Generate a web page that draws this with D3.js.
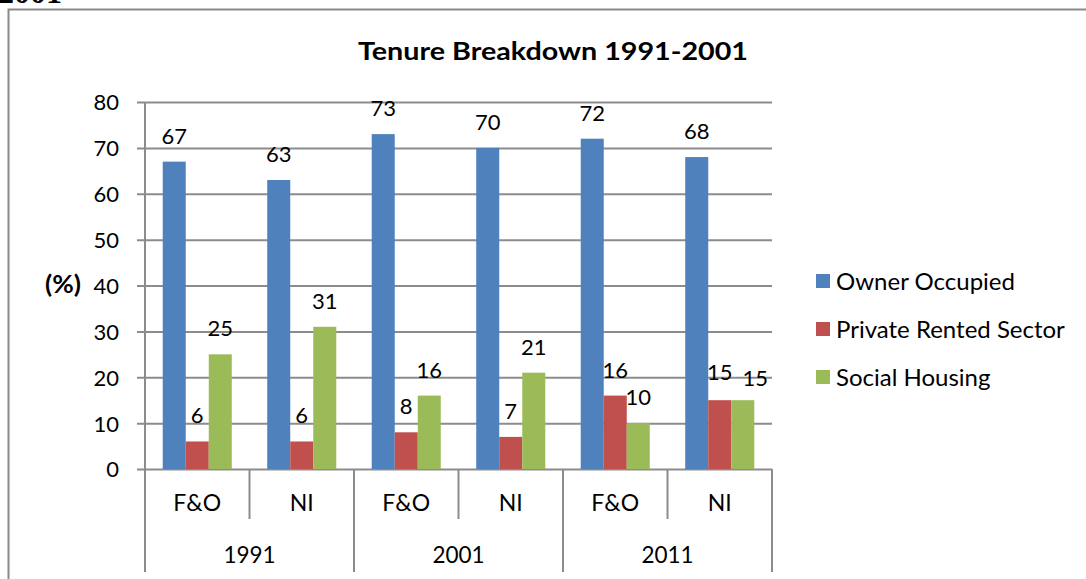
<!DOCTYPE html>
<html>
<head>
<meta charset="utf-8">
<script src="https://cdn.jsdelivr.net/npm/d3@7"></script>
<style>
  html, body { margin: 0; padding: 0; background: #fff; }
  svg { display: block; font-family: Lato, "Open Sans", sans-serif; }
</style>
</head>
<body>
<svg id="chart" width="1086" height="579"></svg>
<script>
const years = ["1991", "2001", "2011"];
const regions = ["F&O", "NI"];
const series = ["Owner Occupied", "Private Rented Sector", "Social Housing"];
const ownerOccupied = [67, 63, 73, 70, 72, 68];
const privateRented = [6, 6, 8, 7, 16, 15];
const socialHousing = [25, 31, 16, 21, 10, 15];
const yTicks = [0, 10, 20, 30, 40, 50, 60, 70, 80];
const colors = ["#4F81BD", "#C0504D", "#9BBB59"];
const title = "Tenure Breakdown 1991-2001";

const categories = [];
years.forEach(yy => regions.forEach(r => categories.push(yy + "|" + r)));
const values = [ownerOccupied, privateRented, socialHousing];

const svg = d3.select("#chart");
const gridColor = "#8c8c8c";
const numSize = 22;

// cut-off text fragment at very top and outer frame
svg.append("text").attr("x", -2).attr("y", 2.5)
  .attr("font-family", "'Liberation Serif', serif").attr("font-weight", "bold")
  .attr("font-size", 32).attr("fill", "#000").text("2001");
svg.append("path").attr("d", "M8.5,579 L8.5,9.5 L1090,9.5")
  .attr("fill", "none").attr("stroke", "#8a8a8a").attr("stroke-width", 2);

const pLeft = 145, pRight = 772, pTop = 102, pBottom = 469;
const x0 = d3.scaleBand().domain(categories).range([pLeft, pRight]).padding(0);
const x1 = d3.scaleBand().domain(series).range([0, x0.bandwidth()])
  .paddingInner(0).paddingOuter(0.77);
const y = d3.scaleLinear().domain([0, 80]).range([pBottom, pTop]);

// gridlines + ticks
const yAxis = d3.axisLeft(y).tickValues(yTicks).tickSize(-(pRight - pLeft)).tickSizeOuter(0).tickPadding(26);
const gy = svg.append("g").attr("transform", `translate(${pLeft},0)`).call(yAxis);
gy.select(".domain").remove();
gy.selectAll(".tick line").attr("x1", -8).attr("stroke", gridColor).attr("stroke-width", 2);
gy.selectAll(".tick text").attr("font-size", numSize).attr("fill", "#000")
  .attr("font-family", "Lato, sans-serif").attr("dy", "0.36em");

// bars
const groups = svg.append("g").selectAll("g").data(categories).join("g")
  .attr("transform", d => `translate(${x0(d)},0)`);
series.forEach((s, si) => {
  groups.append("rect")
    .attr("x", x1(s)).attr("width", x1.bandwidth())
    .attr("y", (d, i) => y(values[si][i]))
    .attr("height", (d, i) => y(0) - y(values[si][i]))
    .attr("fill", colors[si]);
});
series.forEach((s, si) => {
  groups.append("text").attr("class", "vlab")
    .attr("x", x1(s) + x1.bandwidth() / 2)
    .attr("y", (d, i) => y(values[si][i]) - 18)
    .attr("text-anchor", "middle").attr("font-size", numSize).attr("fill", "#000")
    .text((d, i) => values[si][i]);
});
// nudge labels that collide with the previous label in the same group
groups.each(function () {
  const labs = d3.select(this).selectAll("text.vlab").nodes();
  for (let k = 1; k < labs.length; k++) {
    const a = labs[k - 1].getBBox(), b = labs[k].getBBox();
    const overlapY = a.y < b.y + b.height && b.y < a.y + a.height;
    if (overlapY && b.x < a.x + a.width + 6) {
      const dx = a.x + a.width + 10 - b.x;
      d3.select(labs[k]).attr("x", +labs[k].getAttribute("x") + dx)
        .attr("y", +labs[k].getAttribute("y") + 4);
      d3.select(labs[k - 1]).attr("y", +labs[k - 1].getAttribute("y") - 2);
    }
  }
});

// vertical axis line
svg.append("line").attr("x1", pLeft).attr("x2", pLeft).attr("y1", pTop).attr("y2", 572)
  .attr("stroke", gridColor).attr("stroke-width", 2);

// category axis: separators and labels
categories.forEach((c, i) => {
  const xr = x0(c) + x0.bandwidth();
  const isYearEnd = (i % regions.length) === regions.length - 1;
  svg.append("line").attr("x1", xr).attr("x2", xr).attr("y1", pBottom)
    .attr("y2", isYearEnd ? 572 : 519).attr("stroke", gridColor).attr("stroke-width", 2);
  svg.append("text").attr("x", x0(c) + x0.bandwidth() / 2).attr("y", 511)
    .attr("text-anchor", "middle").attr("font-size", 23).attr("fill", "#000")
    .text(c.split("|")[1]);
});
years.forEach(yr => {
  const a = x0(yr + "|" + regions[0]);
  const b = x0(yr + "|" + regions[regions.length - 1]) + x0.bandwidth();
  svg.append("text").attr("x", (a + b) / 2).attr("y", 563)
    .attr("text-anchor", "middle").attr("font-size", 22.5).attr("fill", "#000").text(yr);
});

// title
svg.append("text").attr("x", 553).attr("y", 60).attr("text-anchor", "middle")
  .attr("font-size", 25).attr("font-weight", "bold").attr("fill", "#000")
  .attr("textLength", 390).attr("lengthAdjust", "spacingAndGlyphs").text(title);

// y label
svg.append("text").attr("x", 63).attr("y", 293).attr("text-anchor", "middle")
  .attr("font-size", 24).attr("font-weight", "bold").attr("fill", "#000")
  .attr("textLength", 36).attr("lengthAdjust", "spacingAndGlyphs").text("(%)");

// legend
const legend = svg.append("g").selectAll("g").data(series).join("g")
  .attr("transform", (d, i) => `translate(816,${281 + i * 48})`);
legend.append("rect").attr("x", 0).attr("y", -7).attr("width", 14).attr("height", 14)
  .attr("fill", (d, i) => colors[i]);
legend.append("text").attr("x", 20).attr("y", 0).attr("dy", "0.36em")
  .attr("font-size", 24).attr("fill", "#000").text(d => d);
</script>
</body>
</html>
